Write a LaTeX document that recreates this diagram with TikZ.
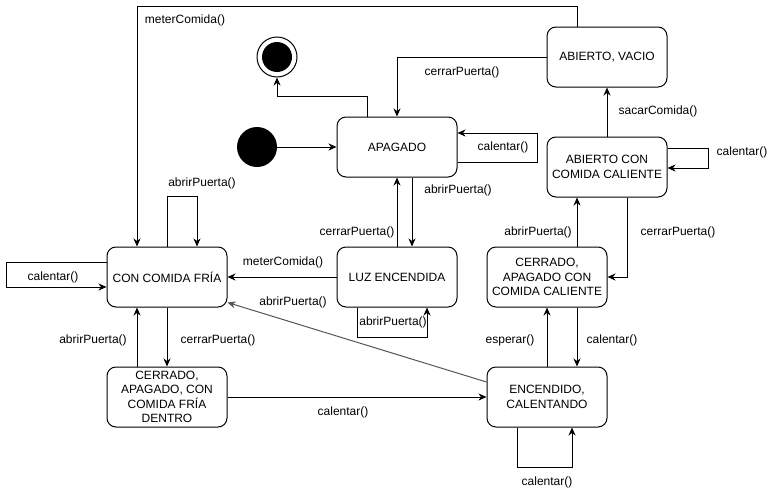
\documentclass[tikz,border=0pt]{standalone}
\usepackage{fontspec}
\setmainfont{Liberation Sans}
\usetikzlibrary{arrows.meta,calc}
\begin{document}
\begin{tikzpicture}[x=1pt,y=-1pt,
  st/.style={draw, line width=1pt, rounded corners=9pt, minimum width=120pt, minimum height=60pt, align=center, inner sep=2pt, font=\fontsize{12}{14.5}\selectfont},
  arr/.style={line width=1pt, -{Stealth[length=8pt,width=7pt,inset=2.5pt]}},
  lbl/.style={font=\fontsize{12}{14}\selectfont, inner sep=1pt},
  every node/.style={}]
\useasboundingbox (0,0) rectangle (778,498);
% states
\node[st] (apag) at (397,147) {APAGADO};
\node[st] (vacio) at (607,57) {ABIERTO, VACIO};
\node[st] (calab) at (607,167) {ABIERTO CON\\COMIDA CALIENTE};
\node[st] (fria) at (167,277) {CON COMIDA FRÍA};
\node[st] (luz) at (397,277) {LUZ ENCENDIDA};
\node[st] (calcer) at (547,277) {CERRADO,\\APAGADO CON\\COMIDA CALIENTE};
\node[st] (friacer) at (167,397) {CERRADO,\\APAGADO, CON\\COMIDA FRÍA\\DENTRO};
\node[st] (enc) at (547,397) {ENCENDIDO,\\CALENTANDO};
\node[circle, fill=black, minimum size=40pt, inner sep=0pt] (ini) at (257,147) {};
\node[circle, draw, line width=1pt, minimum size=40pt, inner sep=0pt] (fin) at (277,57) {};
\node[circle, fill=black, minimum size=30pt, inner sep=0pt] (finin) at (fin.center) {};
% transitions
\draw[arr] (ini.east) -- (apag.west);
\draw[arr] ([xshift=-30pt]apag.north) -- ++(0,-20) -| (fin.south);
\draw[arr] (vacio.west) -| (apag.north);
\draw[arr] ([xshift=-30pt]vacio.north) -- ++(0,-20) -| ([xshift=-30pt]fria.north);
\draw[arr] ([yshift=-15pt]apag.east) -- ++(80,0) |- ([yshift=14pt]apag.east);
\draw[arr] ([xshift=15pt]apag.south) -- ([xshift=15pt]luz.north);
\draw[arr] (luz.north) -- (apag.south);
\draw[arr] (luz.west) -- (fria.east);
\draw[arr] ([xshift=-40pt]luz.south) -- ++(0,30) -| ([xshift=30pt]luz.south);
\draw[arr] (fria.north) -- ++(0,-50) -| ([xshift=30pt]fria.north);
\draw[arr] ([yshift=15pt]fria.west) -- ++(-100,0) |- ([yshift=-10pt]fria.west);
\draw[arr] (fria.south) -- (friacer.north);
\draw[arr] ([xshift=-30pt]friacer.north) -- ([xshift=-30pt]fria.south);
\draw[arr] (friacer.east) -- (enc.west);
\draw[arr, draw={rgb,255:red,85;green,85;blue,85}] ([yshift=15pt]enc.west) -- ([yshift=5pt]fria.south east);
\draw[arr] ([xshift=-30pt]enc.south) -- ++(0,40) -| ([xshift=25pt]enc.south);
\draw[arr] (enc.north) -- (calcer.south);
\draw[arr] ([xshift=30pt]calcer.south) -- ([xshift=30pt]enc.north);
\draw[arr] ([xshift=30pt]calcer.north) -- ([xshift=-30pt]calab.south);
\draw[arr] ([xshift=20pt]calab.south) |- (calcer.east);
\draw[arr] (calab.north) -- (vacio.south);
\draw[arr] ([yshift=19pt]calab.east) -- ++(41,0) |- ([yshift=-1pt]calab.east);
% labels
\node[lbl] (l1) at (185,20) {meterComida()};
\node[lbl] (l2) at (462,72) {cerrarPuerta()};
\node[lbl] (l3) at (503,147) {calentar()};
\node[lbl] (l4) at (458,190) {abrirPuerta()};
\node[lbl] (l5) at (357,232) {cerrarPuerta()};
\node[lbl] (l6) at (283,262) {meterComida()};
\node[lbl] (l7) at (393,322) {abrirPuerta()};
\node[lbl] (l8) at (202,183) {abrirPuerta()};
\node[lbl] (l9) at (53,277) {calentar()};
\node[lbl] (l10) at (218,340) {cerrarPuerta()};
\node[lbl] (l11) at (93,340) {abrirPuerta()};
\node[lbl] (l12) at (343,412) {calentar()};
\node[lbl] (l13) at (293,302) {abrirPuerta()};
\node[lbl] (l14) at (547,482) {calentar()};
\node[lbl] (l15) at (510,340) {esperar()};
\node[lbl] (l16) at (612,340) {calentar()};
\node[lbl] (l17) at (538,232) {abrirPuerta()};
\node[lbl] (l18) at (678,232) {cerrarPuerta()};
\node[lbl] (l19) at (658,111) {sacarComida()};
\node[lbl] (l20) at (742,152) {calentar()};
\end{tikzpicture}
\end{document}
